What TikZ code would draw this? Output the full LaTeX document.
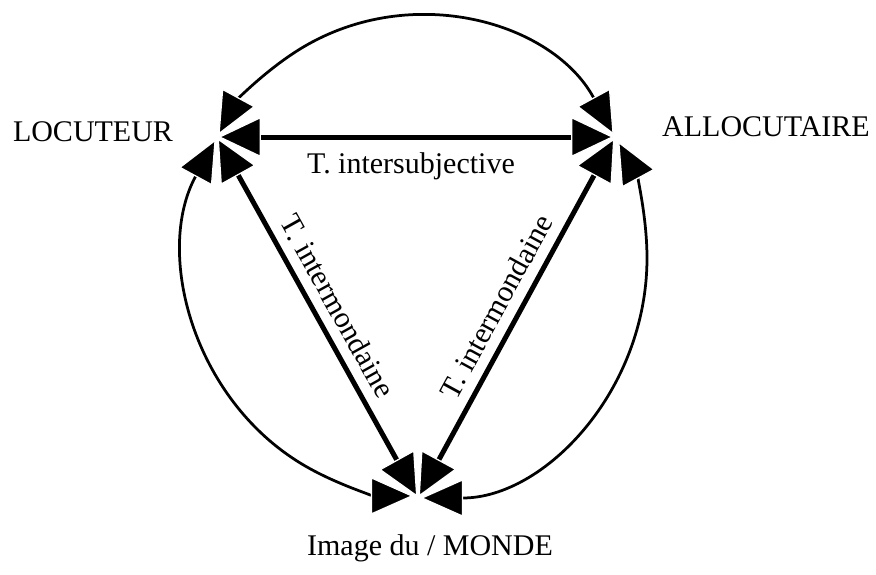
\documentclass[tikz,border=0pt]{standalone}
\usepackage{fontspec}
\setmainfont{Liberation Serif}
\usetikzlibrary{arrows.meta}

\tikzset{
  lbl/.style={font=\fontsize{12}{14}\selectfont, inner sep=1pt},
  link/.style={line width=2pt, shorten <=0.5pt, shorten >=0.5pt,
    {Triangle[length=17pt, width=16pt, color=white, fill=black, line width=0.5pt]}-{Triangle[length=17pt, width=16pt, color=white, fill=black, line width=0.5pt]}},
  rim/.style={line width=1.1pt, shorten <=1pt, shorten >=1pt,
    {Triangle[length=17pt, width=15pt, color=white, fill=black, line width=0.5pt]}-{Triangle[length=17pt, width=15pt, color=white, fill=black, line width=0.5pt]}}
}

\begin{document}
\begin{tikzpicture}[x=0.4pt, y=-0.4pt]

    % rayons de l'ellipse
    \def\Rx{91.6pt}
    \def\Ry{96pt}

    \useasboundingbox (0,0) rectangle (876,575);

    % sommets du triangle
    \coordinate (loc) at (217,137);
    \coordinate (allo) at (615,137);
    \coordinate (monde) at (418,498);

    % etiquettes
    \node[lbl] (locT) at (93,132) {LOCUTEUR};
    \node[lbl] (alloT) at (766,127) {ALLOCUTAIRE};
    \node[lbl] (mondeT) at (430,548) {Image du / MONDE};
    \node[lbl] (interT) at (411,166) {T. intersubjective};

    % arcs exterieurs
    \draw[rim] (allo) arc[start angle=29.7, end angle=150.3, x radius=\Rx, y radius=\Ry];
    \draw[rim] (loc) arc[start angle=150.3, end angle=270, x radius=\Rx, y radius=\Ry];
    \draw[rim] (monde) arc[start angle=270, end angle=389.7, x radius=\Rx, y radius=\Ry];

    % cotes du triangle
    \draw[link] (loc) -- (allo);
    \draw[link] (loc) -- node[lbl, sloped, above=3pt] (gaucheT) {T. intermondaine} (monde);
    \draw[link] (monde) -- node[lbl, sloped, above=3pt] (droiteT) {T. intermondaine} (allo);

\end{tikzpicture}
\end{document}
